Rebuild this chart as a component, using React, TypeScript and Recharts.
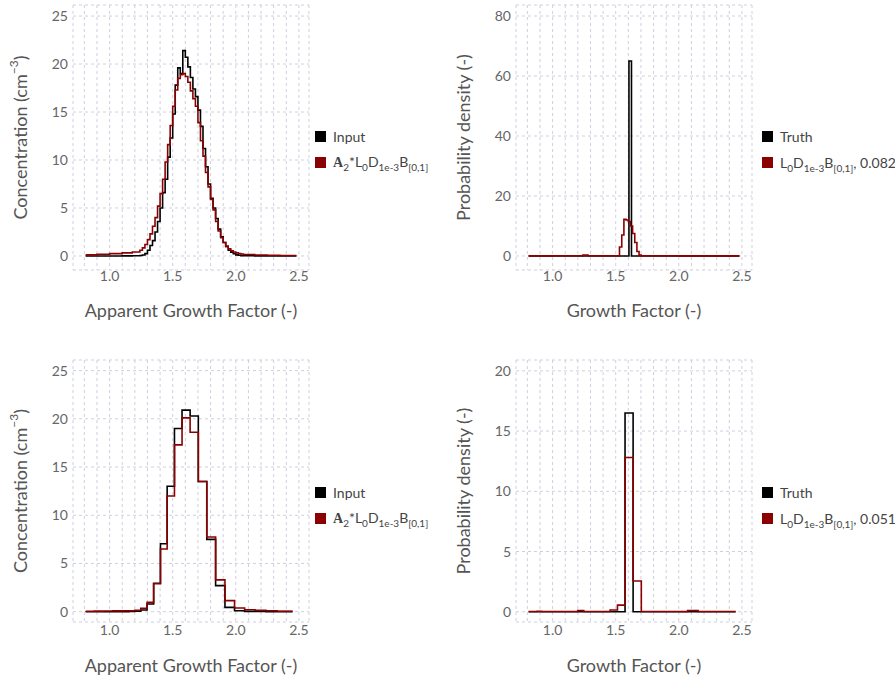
import type { ReactNode } from "react";
import { LineChart, Line, XAxis, YAxis, CartesianGrid, Legend } from "recharts";

const FONT = "Lato, 'Open Sans', sans-serif";
const BLACK = "#000000";
const RED = "#8b0000";
const GRID = "#cfcfe0";

// vertical grid every 0.1, labels every 0.5
const X_GRID = [0.8, 0.9, 1.0, 1.1, 1.2, 1.3, 1.4, 1.5, 1.6, 1.7, 1.8, 1.9, 2.0, 2.1, 2.2, 2.3, 2.4, 2.5];
const X_LABELS = [1.0, 1.5, 2.0, 2.5];
const X_DOMAIN: [number, number] = [0.71, 2.58];

// top-left: fine bins (apparent growth factor)
const EDGES_FINE = [
  0.81, 0.9, 1.0, 1.1, 1.18, 1.24, 1.26, 1.28, 1.3, 1.32, 1.34, 1.36, 1.38, 1.4, 1.42, 1.44, 1.46,
  1.48, 1.5, 1.52, 1.54, 1.56, 1.58, 1.6, 1.62, 1.64, 1.66, 1.68, 1.7, 1.72, 1.74, 1.76, 1.78, 1.8,
  1.82, 1.84, 1.86, 1.88, 1.9, 1.92, 1.94, 1.96, 1.98, 2.0, 2.02, 2.04, 2.06, 2.15, 2.25, 2.35, 2.48,
];
const INPUT_FINE = [
  0, 0, 0, 0.01, 0.02, 0.05, 0.1, 0.25, 0.6, 1.1, 1.6, 2.5, 3.6, 5.0, 6.6, 8.0, 10.3, 12.3, 14.8,
  17.8, 19.6, 19.0, 21.4, 20.7, 19.7, 18.6, 17.4, 16.6, 15.2, 13.5, 11.2, 9.3, 7.5, 6.0, 5.0, 3.9,
  2.8, 2.0, 1.4, 1.0, 0.6, 0.4, 0.25, 0.12, 0.08, 0.04, 0.02, 0.01, 0.01, 0,
];
const FIT_FINE = [
  0.12, 0.18, 0.25, 0.32, 0.42, 0.6, 0.85, 1.2, 1.7, 2.3, 3.1, 4.0, 5.2, 6.5, 8.0, 9.8, 11.6, 13.6,
  15.6, 17.3, 18.5, 18.9, 19.0, 18.7, 18.1, 17.2, 16.4, 15.6, 13.9, 12.0, 10.4, 8.7, 7.2, 5.9, 4.8,
  3.6, 2.6, 1.9, 1.4, 1.0, 0.75, 0.55, 0.42, 0.33, 0.26, 0.2, 0.15, 0.1, 0.07, 0.05,
];

// top-right: probability density
const TRUTH_EDGES_FINE = [0.81, 1.605, 1.625, 2.48];
const TRUTH_FINE = [0, 65, 0];
const INV_EDGES_FINE = [
  0.81, 1.0, 1.2, 1.24, 1.28, 1.32, 1.53, 1.548, 1.565, 1.582, 1.6, 1.617, 1.634, 1.651, 1.668,
  1.685, 1.702, 2.0, 2.48,
];
const INV_FINE = [0.05, 0.08, 0.1, 0.35, 0.1, 0.08, 3.0, 7.0, 12.2, 12.0, 11.5, 10.0, 7.5, 4.5, 1.5, 0.3, 0.08, 0.05];

// bottom row: coarse bins
const EDGES_COARSE = [
  0.81, 0.843, 0.877, 0.912, 0.948, 0.986, 1.025, 1.066, 1.109, 1.153, 1.199, 1.247, 1.297, 1.349,
  1.403, 1.456, 1.514, 1.574, 1.638, 1.703, 1.77, 1.84, 1.914, 1.99, 2.07, 2.153, 2.239, 2.328, 2.45,
];
const INPUT_COARSE = [
  0, 0, 0, 0, 0, 0, 0, 0, 0.01, 0.02, 0.05, 0.17, 0.8, 2.95, 7.05, 13.0, 19.0, 20.9, 20.3, 13.5, 7.5,
  2.7, 0.45, 0.1, 0.03, 0.02, 0.01, 0.01,
];
const FIT_COARSE = [
  0.05, 0.05, 0.06, 0.06, 0.07, 0.07, 0.08, 0.08, 0.09, 0.1, 0.15, 0.35, 0.97, 2.9, 6.5, 12.0, 17.3,
  20.1, 18.6, 13.5, 7.75, 3.3, 1.15, 0.38, 0.2, 0.15, 0.1, 0.05,
];
const TRUTH_COARSE = [
  0, 0, 0, 0, 0, 0, 0, 0, 0, 0, 0, 0, 0, 0, 0, 0, 0, 16.5, 0, 0, 0, 0, 0, 0, 0, 0, 0, 0,
];
const INV_COARSE = [
  0.02, 0.02, 0.04, 0.02, 0.02, 0.02, 0.02, 0.02, 0.02, 0.02, 0.1, 0.02, 0.02, 0.02, 0.02, 0.14, 0.55,
  12.8, 2.55, 0.02, 0.02, 0.02, 0.02, 0.02, 0.1, 0.02, 0.02, 0.02,
];

function toSteps(edges: number[], values: number[]) {
  const pts = values.map((v, i) => ({ x: edges[i], y: v }));
  pts.push({ x: edges[edges.length - 1], y: values[values.length - 1] });
  return pts;
}

const fmtX = (v: number) => (X_LABELS.some((l) => Math.abs(l - v) < 1e-9) ? v.toFixed(1) : "");

function Sub({ children }: { children: ReactNode }) {
  return <span style={{ fontSize: 10, position: "relative", top: 4 }}>{children}</span>;
}

const FIT_LABEL = (
  <>
    <span style={{ fontFamily: "'Liberation Serif', serif", fontWeight: 700 }}>A</span>
    <Sub>2</Sub>*L<Sub>0</Sub>D<Sub>1e-3</Sub>B<Sub>[0,1]</Sub>
  </>
);
const invLabel = (score: string) => (
  <>
    L<Sub>0</Sub>D<Sub>1e-3</Sub>B<Sub>[0,1]</Sub>, {score}
  </>
);

type Item = { key: string; color: string; label: ReactNode };

function LegendBox({ items }: { items: Item[] }) {
  return (
    <div style={{ fontFamily: FONT, fontSize: 14, color: "#444" }}>
      {items.map((it) => (
        <div key={it.key} style={{ display: "flex", alignItems: "center", height: 26, whiteSpace: "nowrap" }}>
          <span style={{ width: 11, height: 11, background: it.color, marginRight: 7, flex: "none" }} />
          <span>{it.label}</span>
        </div>
      ))}
    </div>
  );
}

function YTitle(props: any) {
  const vb = props.viewBox ?? { x: 0, y: 0, width: 0, height: 0 };
  const cx = vb.x + 20;
  const cy = vb.y + vb.height / 2;
  return (
    <text
      x={cx}
      y={cy}
      transform={`rotate(-90, ${cx}, ${cy})`}
      textAnchor="middle"
      dominantBaseline="central"
      fill="#555"
      fontSize={18}
      fontFamily={FONT}
    >
      {props.text}
      {props.sup ? (
        <>
          <tspan dy={-7} fontSize={12}>
            {props.sup}
          </tspan>
          <tspan dy={7}>)</tspan>
        </>
      ) : null}
    </text>
  );
}

function XTitle(props: any) {
  const vb = props.viewBox ?? { x: 0, y: 0, width: 0, height: 0 };
  return (
    <text
      x={vb.x + vb.width / 2}
      y={vb.y + props.gap}
      textAnchor="middle"
      fill="#555"
      fontSize={18}
      fontFamily={FONT}
    >
      {props.text}
    </text>
  );
}

type Series = { key: string; color: string; data: { x: number; y: number }[] };

function Panel(props: {
  left: number;
  top: number;
  width: number;
  height: number;
  xAxisHeight: number;
  rightMargin: number;
  yDomain: [number, number];
  yTicks: number[];
  yText: string;
  ySup?: string;
  xText: string;
  tickGap: number;
  titleGap: number;
  series: Series[];
  legend: Item[];
  legendLeft: number;
  legendTop: number;
}) {
  const tick = { fill: "#666", fontSize: 14, fontFamily: FONT };
  return (
    <div style={{ position: "absolute", left: props.left, top: props.top }}>
      <LineChart
        width={props.width}
        height={props.height}
        margin={{ top: 5, right: props.rightMargin, bottom: 0, left: 0 }}
      >
        <CartesianGrid stroke={GRID} strokeDasharray="3 3" />
        <XAxis
          type="number"
          dataKey="x"
          domain={X_DOMAIN}
          ticks={X_GRID}
          interval={0}
          tickFormatter={fmtX}
          height={props.xAxisHeight}
          axisLine={false}
          tickLine={false}
          tickSize={0}
          tickMargin={props.tickGap}
          tick={tick}
          label={<XTitle text={props.xText} gap={props.titleGap} />}
        />
        <YAxis
          type="number"
          domain={props.yDomain}
          ticks={props.yTicks}
          interval={0}
          width={73}
          axisLine={false}
          tickLine={false}
          tickSize={0}
          tickMargin={5}
          tick={tick}
          label={<YTitle text={props.yText} sup={props.ySup} />}
        />
        {props.series.map((s) => (
          <Line
            key={s.key}
            data={s.data}
            type="stepAfter"
            dataKey="y"
            stroke={s.color}
            strokeWidth={1.6}
            dot={false}
            activeDot={false}
            isAnimationActive={false}
          />
        ))}
        <Legend
          layout="horizontal"
          verticalAlign="middle"
          content={() => <LegendBox items={props.legend} />}
          wrapperStyle={{ left: props.legendLeft, top: props.legendTop }}
        />
      </LineChart>
    </div>
  );
}

export default function App() {
  const conc = "Concentration (cm";
  const pdf = "Probability density (-)";
  return (
    <div style={{ position: "absolute", left: 0, top: 0, width: 895, height: 678, background: "#fff" }}>
      <Panel
        left={0}
        top={0}
        width={447}
        height={339}
        xAxisHeight={69}
        rightMargin={138}
        yDomain={[-1.46, 26.15]}
        yTicks={[0, 5, 10, 15, 20, 25]}
        yText={conc}
        ySup="−3"
        xText="Apparent Growth Factor (-)"
        tickGap={1}
        titleGap={47}
        series={[
          { key: "input", color: BLACK, data: toSteps(EDGES_FINE, INPUT_FINE) },
          { key: "fit", color: RED, data: toSteps(EDGES_FINE, FIT_FINE) },
        ]}
        legend={[
          { key: "input", color: BLACK, label: "Input" },
          { key: "fit", color: RED, label: FIT_LABEL },
        ]}
        legendLeft={315}
        legendTop={123}
      />
      <Panel
        left={443}
        top={0}
        width={452}
        height={339}
        xAxisHeight={69}
        rightMargin={143}
        yDomain={[-4.67, 83.67]}
        yTicks={[0, 20, 40, 60, 80]}
        yText={pdf}
        xText="Growth Factor (-)"
        tickGap={1}
        titleGap={47}
        series={[
          { key: "truth", color: BLACK, data: toSteps(TRUTH_EDGES_FINE, TRUTH_FINE) },
          { key: "inv", color: RED, data: toSteps(INV_EDGES_FINE, INV_FINE) },
        ]}
        legend={[
          { key: "truth", color: BLACK, label: "Truth" },
          { key: "inv", color: RED, label: invLabel("0.082") },
        ]}
        legendLeft={319}
        legendTop={123}
      />
      <Panel
        left={0}
        top={355}
        width={447}
        height={323}
        xAxisHeight={56}
        rightMargin={138}
        yDomain={[-1.07, 26.1]}
        yTicks={[0, 5, 10, 15, 20, 25]}
        yText={conc}
        ySup="−3"
        xText="Apparent Growth Factor (-)"
        tickGap={3}
        titleGap={50}
        series={[
          { key: "input", color: BLACK, data: toSteps(EDGES_COARSE, INPUT_COARSE) },
          { key: "fit", color: RED, data: toSteps(EDGES_COARSE, FIT_COARSE) },
        ]}
        legend={[
          { key: "input", color: BLACK, label: "Input" },
          { key: "fit", color: RED, label: FIT_LABEL },
        ]}
        legendLeft={315}
        legendTop={124}
      />
      <Panel
        left={443}
        top={355}
        width={452}
        height={323}
        xAxisHeight={56}
        rightMargin={143}
        yDomain={[-0.85, 20.9]}
        yTicks={[0, 5, 10, 15, 20]}
        yText={pdf}
        xText="Growth Factor (-)"
        tickGap={3}
        titleGap={50}
        series={[
          { key: "truth", color: BLACK, data: toSteps(EDGES_COARSE, TRUTH_COARSE) },
          { key: "inv", color: RED, data: toSteps(EDGES_COARSE, INV_COARSE) },
        ]}
        legend={[
          { key: "truth", color: BLACK, label: "Truth" },
          { key: "inv", color: RED, label: invLabel("0.051") },
        ]}
        legendLeft={319}
        legendTop={124}
      />
    </div>
  );
}
